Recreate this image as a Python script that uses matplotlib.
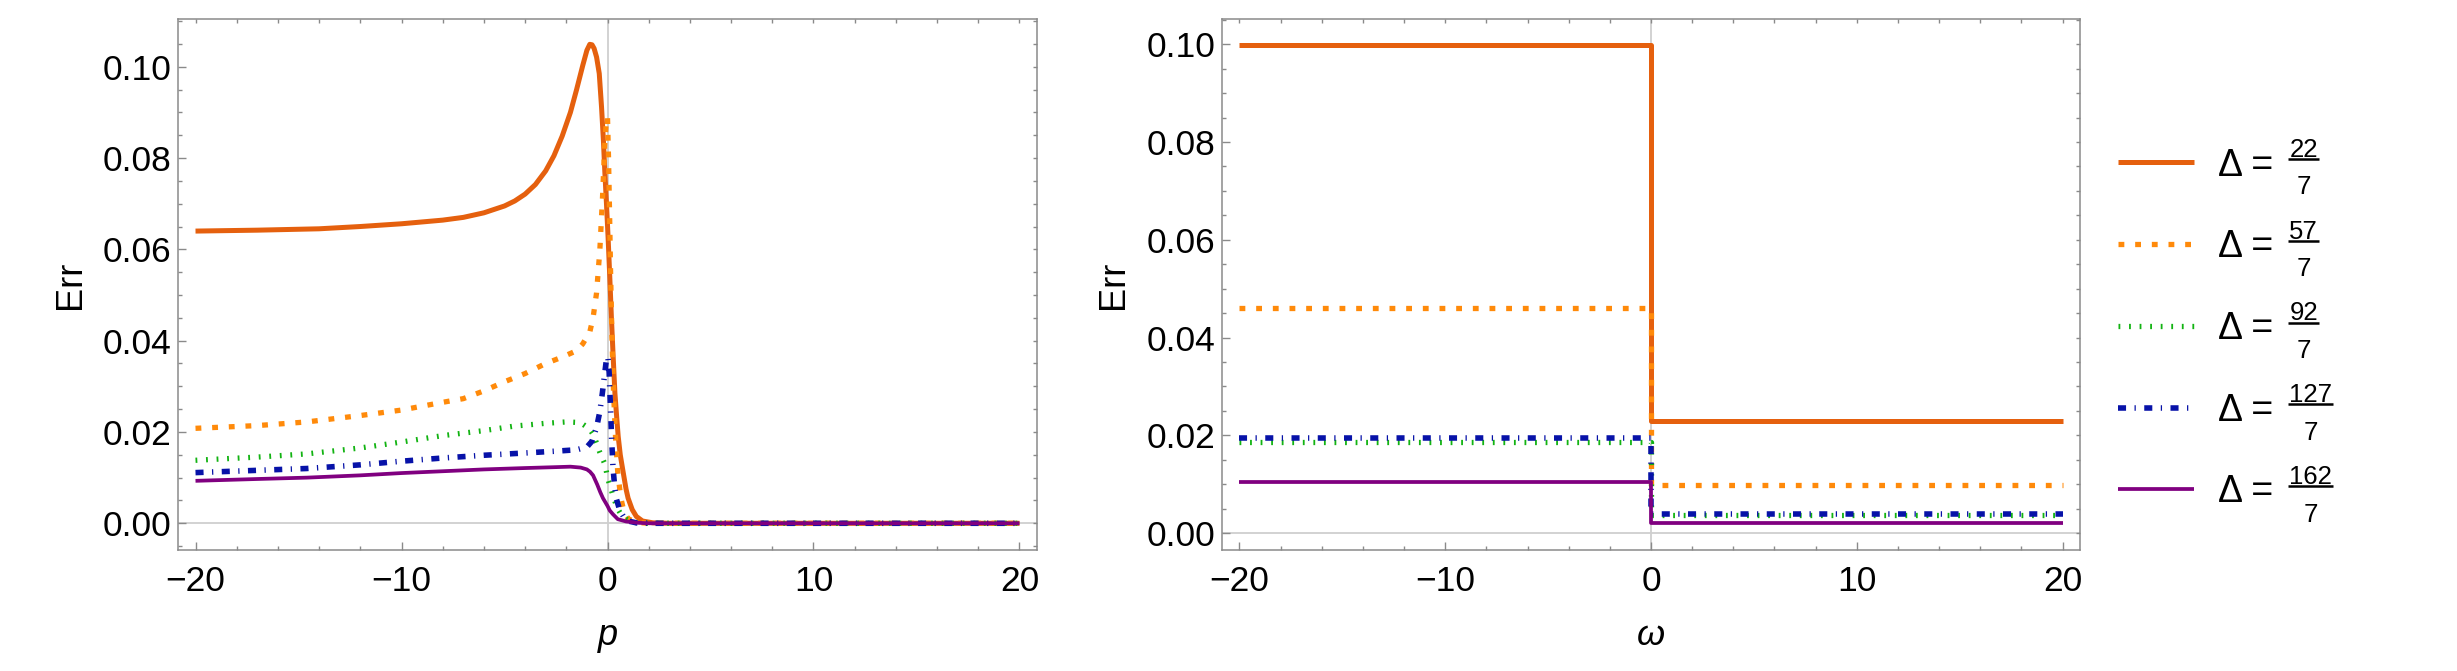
import matplotlib
matplotlib.use("Agg")
import matplotlib.pyplot as plt
from matplotlib.lines import Line2D
from matplotlib.font_manager import FontProperties
from matplotlib.ticker import MultipleLocator, FormatStrFormatter

# ---------------- data ----------------
delta_numerators = ['22', '57', '92', '127', '162']
delta_denominator = '7'

# left panel: Err vs p
p_d22 = [-20, -17, -14, -12, -10, -8, -7, -6, -5, -4.5, -4, -3.5, -3, -2.6, -2.2, -1.8, -1.5, -1.2, -1.0,
         -0.86, -0.75, -0.65, -0.53, -0.4, -0.29, -0.2, -0.13, -0.05, 0.03, 0.11, 0.19, 0.28, 0.36, 0.45,
         0.52, 0.62, 0.73, 0.9, 1.0, 1.2, 1.4, 1.7, 2.2, 3, 5, 10, 15, 20]
err_d22 = [0.0640, 0.0642, 0.0645, 0.0650, 0.0656, 0.0664, 0.0670, 0.0680, 0.0695, 0.0706, 0.0721, 0.0742,
           0.0772, 0.0805, 0.0848, 0.0900, 0.0950, 0.1003, 0.1036, 0.1049, 0.1048, 0.1040, 0.1021, 0.0985,
           0.0912, 0.0840, 0.0770, 0.0700, 0.0625, 0.0540, 0.0450, 0.0360, 0.0285, 0.0230, 0.0190, 0.0150,
           0.0120, 0.0075, 0.0055, 0.0030, 0.0015, 0.0005, 0.0001, 0.0, 0.0, 0.0, 0.0, 0.0]

p_d57 = [-20, -17, -14.6, -12, -10, -8, -7, -6, -5, -4, -3, -2.2, -1.5, -1.2, -0.86, -0.7, -0.53, -0.37,
         -0.24, -0.13, -0.05, 0.0, 0.05, 0.1, 0.15, 0.2, 0.25, 0.3, 0.4, 0.5, 0.65, 0.8, 1.0, 1.4, 2, 3, 5,
         10, 15, 20]
err_d57 = [0.0208, 0.0214, 0.0222, 0.0236, 0.0248, 0.0265, 0.0273, 0.0290, 0.0310, 0.0328, 0.0350, 0.0364,
           0.0378, 0.0393, 0.0419, 0.0450, 0.0505, 0.0600, 0.0716, 0.0833, 0.0885, 0.0890, 0.0800, 0.0680,
           0.0550, 0.0440, 0.0350, 0.0280, 0.0180, 0.0110, 0.0055, 0.0025, 0.0010, 0.0002, 0.0, 0.0, 0.0,
           0.0, 0.0, 0.0]

p_d92 = [-20, -17, -14.6, -12, -10, -8, -6, -4.5, -3, -2, -1.5, -1.2, -0.9, -0.7, -0.5, -0.37, -0.13,
         0.03, 0.15, 0.27, 0.4, 0.52, 0.65, 0.84, 1.2, 1.6, 3, 5, 10, 15, 20]
err_d92 = [0.0138, 0.0145, 0.0152, 0.0165, 0.0178, 0.0192, 0.0203, 0.0213, 0.0219, 0.0222, 0.0221, 0.0217,
           0.0208, 0.0195, 0.0172, 0.0155, 0.0130, 0.0095, 0.0078, 0.0060, 0.0043, 0.0030, 0.0020, 0.0011,
           0.0003, 0.0, 0.0, 0.0, 0.0, 0.0, 0.0]

p_d127 = [-20, -17, -14.6, -12, -10, -8, -6, -4, -2.5, -1.5, -1.0, -0.75, -0.53, -0.37, -0.25, -0.13, -0.05,
          0.02, 0.08, 0.14, 0.2, 0.27, 0.36, 0.44, 0.6, 0.76, 1.0, 1.4, 2, 3, 5, 10, 15, 20]
err_d127 = [0.0111, 0.0116, 0.0120, 0.0128, 0.0136, 0.0143, 0.0149, 0.0154, 0.0158, 0.0161, 0.0167, 0.0180,
            0.0210, 0.0245, 0.0285, 0.0330, 0.0360, 0.0365, 0.0330, 0.0260, 0.0185, 0.0120, 0.0075, 0.0052,
            0.0028, 0.0016, 0.0005, 0.0001, 0.0, 0.0, 0.0, 0.0, 0.0, 0.0]

p_d162 = [-20, -17, -14.6, -12, -10, -8, -6, -4, -2.5, -1.8, -1.3, -1.0, -0.85, -0.7, -0.5, -0.35, -0.22,
          0.0, 0.11, 0.26, 0.5, 0.9, 1.5, 2, 3, 5, 10, 15, 20]
err_d162 = [0.0093, 0.0097, 0.0100, 0.0105, 0.0110, 0.0114, 0.0118, 0.0121, 0.0123, 0.0124, 0.0122, 0.0118,
            0.0113, 0.0105, 0.0085, 0.0068, 0.0055, 0.0038, 0.0028, 0.0020, 0.0009, 0.0004, 0.0001, 0.0,
            0.0, 0.0, 0.0, 0.0, 0.0]

# right panel: Err vs omega (step at omega = 0)
omega = [-20, 0, 20]
err_w_d22 = [0.0999, 0.0229, 0.0229]
err_w_d57 = [0.0461, 0.0098, 0.0098]
err_w_d92 = [0.0186, 0.0037, 0.0037]
err_w_d127 = [0.0195, 0.0040, 0.0040]
err_w_d162 = [0.0104, 0.0021, 0.0021]

y_major = [0.00, 0.02, 0.04, 0.06, 0.08, 0.10]
x_major = [-20, -10, 0, 10, 20]

# ---------------- style ----------------
FAMILY = ['Liberation Sans', 'DejaVu Sans']
plt.rcParams['font.family'] = FAMILY
plt.rcParams['mathtext.fontset'] = 'custom'
plt.rcParams['mathtext.rm'] = 'Liberation Sans'
plt.rcParams['mathtext.it'] = 'Liberation Sans:italic'
plt.rcParams['mathtext.bf'] = 'Liberation Sans:bold'
plt.rcParams['lines.scale_dashes'] = False

C_RED = '#E5600E'
C_ORA = '#FF8A0A'
C_GRN = '#12B312'
C_BLU = '#0712A8'
C_PUR = '#800080'

styles = [
    dict(color=C_RED, lw=3.6, ls='-', solid_capstyle='butt'),
    dict(color=C_ORA, lw=3.8, ls=(0, (4.2, 7.8)), dash_capstyle='butt'),
    dict(color=C_GRN, lw=3.8, ls=(0, (1.3, 6.3)), dash_capstyle='butt'),
    dict(color=C_BLU, lw=4.0, ls=(0, (5.8, 6.1, 0.9, 6.1)), dash_capstyle='butt'),
    dict(color=C_PUR, lw=2.7, ls='-', solid_capstyle='butt'),
]

fig = plt.figure(figsize=(24.57, 6.71), dpi=100)
W, H = 2457.0, 671.0
axL = fig.add_axes([178 / W, 1 - 550 / H, (1037 - 178) / W, (550 - 19) / H])
axR = fig.add_axes([1222 / W, 1 - 550 / H, (2080 - 1222) / W, (550 - 19) / H])

FRAME = '#8a8a8a'
LIGHT = '#c4c4c4'
TICKFS = 25.5


def style_axes(ax, ylim, xlabel, ylabel_pad):
    ax.set_xlim(-20.85, 20.85)
    ax.set_ylim(*ylim)
    ax.axhline(0, color='#cfcfcf', lw=1.3, zorder=0.5)
    ax.axvline(0, color='#cfcfcf', lw=1.3, zorder=0.5)
    ax.set_xticks(x_major)
    ax.set_yticks(y_major)
    ax.xaxis.set_minor_locator(MultipleLocator(2))
    ax.yaxis.set_minor_locator(MultipleLocator(0.005))
    ax.yaxis.set_major_formatter(FormatStrFormatter('%.2f'))
    for s in ax.spines.values():
        s.set_color(FRAME)
        s.set_linewidth(1.1)
    ax.tick_params(which='both', direction='in', top=True, right=True, color=FRAME, width=1.0,
                   labelsize=TICKFS, labelcolor='black')
    ax.tick_params(which='major', length=6.0)
    ax.tick_params(which='minor', length=3.2)
    ax.tick_params(axis='x', which='major', pad=11)
    ax.tick_params(axis='y', which='major', pad=5)
    ax.set_xlabel(xlabel, fontsize=26, fontstyle='italic', labelpad=14)
    ax.set_ylabel('Err', fontsize=26, labelpad=ylabel_pad)
    for axis in (ax.xaxis, ax.yaxis):
        for t in axis.get_major_ticks() + axis.get_minor_ticks():
            t.tick2line.set_color(LIGHT)
            t.tick2line.set_markersize(3.2)


style_axes(axL, (-0.00585, 0.11045), 'p', 10)
style_axes(axR, (-0.00344, 0.10516), 'ω', 11)

left_series = [(p_d22, err_d22), (p_d57, err_d57), (p_d92, err_d92), (p_d127, err_d127), (p_d162, err_d162)]
right_series = [err_w_d22, err_w_d57, err_w_d92, err_w_d127, err_w_d162]

handles = []
for (px, py), st in zip(left_series, styles):
    axL.plot(px, py, zorder=2, **st)
for wy, st in zip(right_series, styles):
    h, = axR.plot(omega, wy, drawstyle='steps-post', zorder=2, **st)
    handles.append(h)

# legend: handles + "Δ =" text; a stacked fraction is set right after each entry
LEGFS = 27
FRACFS = 18.5
leg = fig.legend(handles, ['Δ ='] * len(handles), loc='center left',
                 bbox_to_anchor=(2118 / W, 1 - 329 / H), frameon=False, fontsize=LEGFS,
                 handlelength=2.03, handletextpad=0.64, labelspacing=1.22,
                 borderpad=0, borderaxespad=0)

fig.canvas.draw()
renderer = fig.canvas.get_renderer()
fp_leg = FontProperties(family=FAMILY, size=LEGFS)
fp_frac = FontProperties(family=FAMILY, size=FRACFS)
_, _, lp_desc = renderer.get_text_width_height_descent('lp', fp_leg, ismath=False)
for txt, num in zip(leg.get_texts(), delta_numerators):
    bb = txt.get_window_extent(renderer)
    base = bb.y0 + lp_desc                  # baseline of "Δ =" in pixels (y up)
    wn, _, _ = renderer.get_text_width_height_descent(num, fp_frac, ismath=False)
    wd, _, _ = renderer.get_text_width_height_descent(delta_denominator, fp_frac, ismath=False)
    bar_w = max(wn, wd) + 2
    x0 = bb.x1 + 15
    xc = x0 + bar_w / 2
    fig.text(xc / W, (base + 18.5) / H, num, fontsize=FRACFS, ha='center', va='baseline')
    fig.text(xc / W, (base - 19.0) / H, delta_denominator, fontsize=FRACFS, ha='center', va='baseline')
    fig.add_artist(Line2D([x0 / W, (x0 + bar_w) / W], [(base + 16.3) / H] * 2,
                          transform=fig.transFigure, color='black', lw=1.8, solid_capstyle='butt'))

fig.savefig('out.png', dpi=100)
